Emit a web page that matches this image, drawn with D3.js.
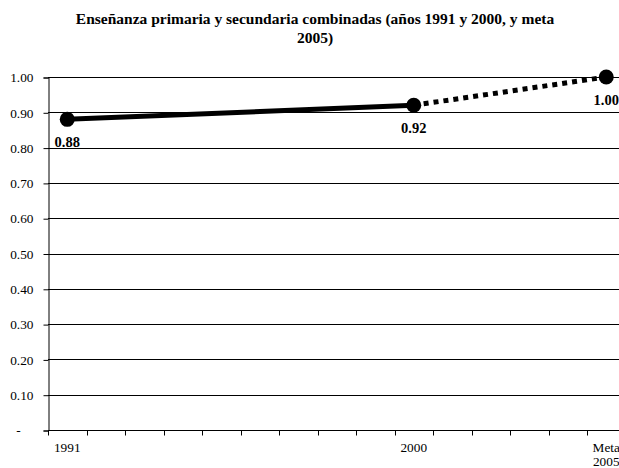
<!DOCTYPE html>
<html>
<head>
<meta charset="utf-8">
<script src="https://cdn.jsdelivr.net/npm/d3@7"></script>
<style>
  html, body { margin: 0; padding: 0; background: #fff; }
  svg { display: block; }
</style>
</head>
<body>
<svg id="chart" width="619" height="468"></svg>
<script>
// Category slots on the x axis (one per year, only some labelled)
const categories = ["1991","1992","1993","1994","1995","1996","1997","1998","1999","2000","2001","2002","2003","2004","Meta 2005"];
const categoryLabels = {"1991": ["1991"], "2000": ["2000"], "Meta 2005": ["Meta", "2005"]};

// Observed series (solid) and target segment (dotted)
const observed = [{cat: "1991", value: 0.88}, {cat: "2000", value: 0.92}];
const target = [{cat: "2000", value: 0.92}, {cat: "Meta 2005", value: 1.00}];
const points = [{cat: "1991", value: 0.88}, {cat: "2000", value: 0.92}, {cat: "Meta 2005", value: 1.00}];

const yTicks = [0, 0.1, 0.2, 0.3, 0.4, 0.5, 0.6, 0.7, 0.8, 0.9, 1.0];
const title = ["Enseñanza primaria y secundaria combinadas (años 1991 y 2000, y meta", "2005)"];

const svg = d3.select("#chart");
const serif = "'Liberation Serif', 'Times New Roman', serif";

const plotLeft = 48, plotTop = 77, plotBottom = 430;
const step = 38.5;
const plotRight = plotLeft + step * categories.length;

const x = d3.scaleBand().domain(categories).range([plotLeft, plotRight]).padding(0);
const y = d3.scaleLinear().domain([0, 1]).range([plotBottom, plotTop]);
const cx = c => x(c) + x.bandwidth() / 2;

// Title
svg.append("g").selectAll("text").data(title).join("text")
  .attr("x", 315).attr("y", (d, i) => 24 + i * 19)
  .attr("text-anchor", "middle")
  .attr("font-family", serif).attr("font-weight", "bold").attr("font-size", 15.5)
  .text(d => d);

// Horizontal gridlines
svg.append("g").selectAll("line").data(yTicks.filter(d => d > 0)).join("line")
  .attr("x1", plotLeft).attr("x2", plotRight)
  .attr("y1", d => Math.round(y(d)) + 0.5).attr("y2", d => Math.round(y(d)) + 0.5)
  .attr("stroke", "#000").attr("stroke-width", 1);

// Y axis
const yAxis = d3.axisLeft(y).tickValues(yTicks).tickSize(5).tickPadding(10)
  .tickFormat(d => d === 0 ? "-" : d3.format(".2f")(d));
const gy = svg.append("g").attr("transform", `translate(${plotLeft + 0.5},0.5)`).call(yAxis);
gy.select(".domain").attr("stroke", "#000");
gy.selectAll(".tick line").attr("stroke", "#000");
gy.selectAll(".tick text").attr("font-family", serif).attr("font-size", 13.3).attr("fill", "#000");
gy.selectAll(".tick text").filter(d => d === 0).attr("text-anchor", "middle").attr("x", -30);

// X axis: ticks on category boundaries, labels centred on categories
const gx = svg.append("g").attr("transform", `translate(0,${plotBottom + 0.5})`);
gx.append("line").attr("x1", plotLeft).attr("x2", plotRight).attr("stroke", "#000");
gx.selectAll("line.tick").data(d3.range(categories.length + 1)).join("line")
  .attr("class", "tick")
  .attr("x1", i => Math.round(plotLeft + i * x.bandwidth()) + 0.5)
  .attr("x2", i => Math.round(plotLeft + i * x.bandwidth()) + 0.5)
  .attr("y1", 0).attr("y2", 5).attr("stroke", "#000");
const labelled = categories.filter(c => categoryLabels[c]);
gx.selectAll("text").data(labelled).join("text")
  .attr("x", c => cx(c)).attr("y", 21)
  .attr("text-anchor", "middle")
  .attr("font-family", serif).attr("font-size", 13.3)
  .each(function (c) {
    d3.select(this).selectAll("tspan").data(categoryLabels[c]).join("tspan")
      .attr("x", cx(c)).attr("dy", (d, i) => i === 0 ? 0 : 14).text(d => d);
  });

// Lines
const line = d3.line().x(d => cx(d.cat)).y(d => y(d.value));
svg.append("path").datum(observed).attr("d", line)
  .attr("fill", "none").attr("stroke", "#000").attr("stroke-width", 5);
svg.append("path").datum(target).attr("d", line)
  .attr("fill", "none").attr("stroke", "#000").attr("stroke-width", 5)
  .attr("stroke-dasharray", "5,5");

// Markers
svg.append("g").selectAll("circle").data(points).join("circle")
  .attr("cx", d => cx(d.cat)).attr("cy", d => y(d.value)).attr("r", 7.5)
  .attr("fill", "#000");

// Value labels below each point
svg.append("g").selectAll("text").data(points).join("text")
  .attr("x", d => cx(d.cat)).attr("y", d => y(d.value) + 28)
  .attr("text-anchor", "middle")
  .attr("font-family", serif).attr("font-weight", "bold").attr("font-size", 14.5)
  .text(d => d3.format(".2f")(d.value));
</script>
</body>
</html>
